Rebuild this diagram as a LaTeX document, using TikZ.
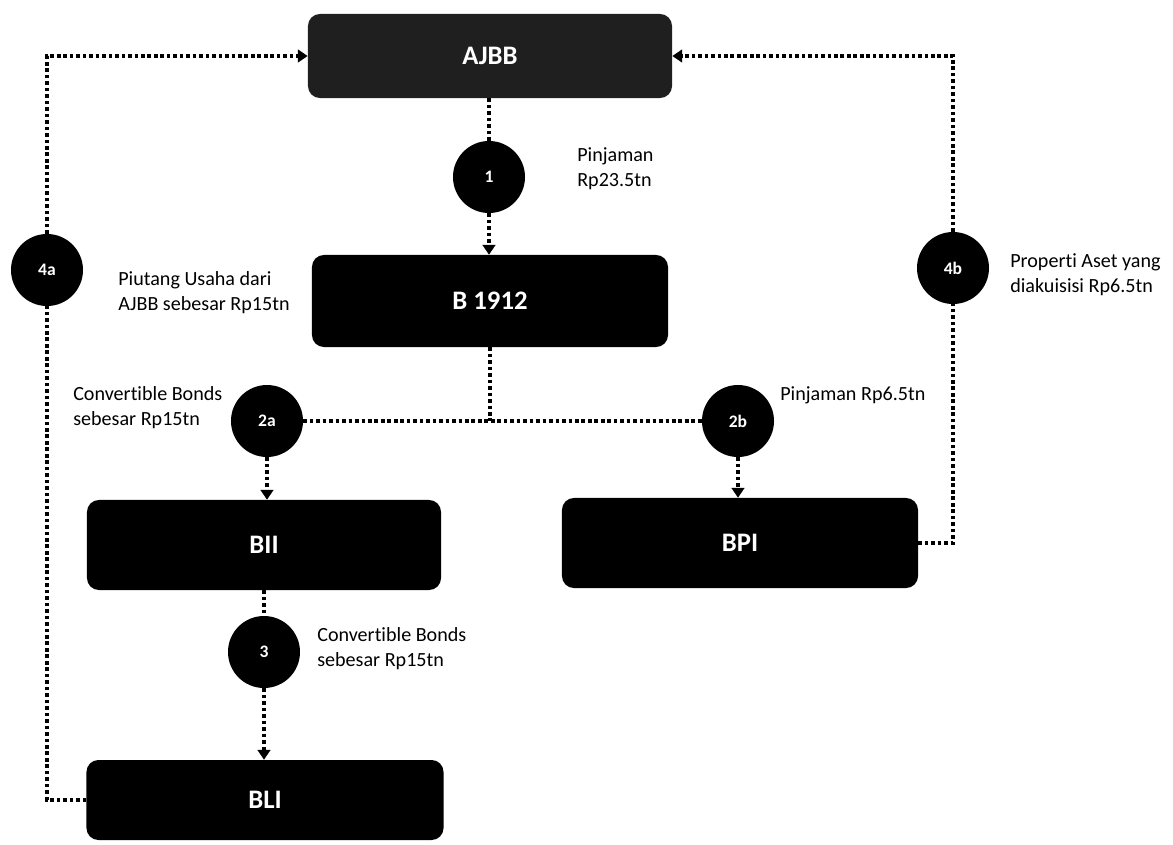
\documentclass[tikz,border=0pt]{standalone}
\usepackage{fontspec}
\setmainfont[Ligatures=NoCommon]{Carlito}
\usetikzlibrary{arrows.meta}
\begin{document}
\begin{tikzpicture}[x=0.025cm,y=-0.025cm,
  box/.style={draw=none,fill=black,rounded corners=0.3cm,text=white,font=\fontsize{19}{22}\selectfont\bfseries,inner sep=0pt},
  topbox/.style={box,fill=black!88},
  num/.style={circle,fill=black,text=white,minimum size=1.8cm,inner sep=0pt,font=\fontsize{12.5}{14}\selectfont\bfseries},
  lbl/.style={anchor=west,align=left,font=\fontsize{14.3}{17.7}\selectfont,inner sep=0pt},
  link/.style={line width=2.6pt,dash pattern=on 2.6pt off 2pt,black},
  arr/.style={link,-{Triangle[width=9pt,length=7pt,line cap=butt]}}
]
\useasboundingbox (0,0) rectangle (1173,844);
% boxes
\node[topbox,minimum width=9.1cm,minimum height=2.1cm] (ajbb) at (490,56) {AJBB};
\node[box,minimum width=8.9cm,minimum height=2.3cm] (b1912) at (490,301) {B 1912};
\node[box,minimum width=8.85cm,minimum height=2.25cm] (bii) at (264,545) {BII};
\node[box,minimum width=8.9cm,minimum height=2.25cm] (bpi) at (740,543) {BPI};
\node[box,minimum width=8.925cm,minimum height=2.0cm] (bli) at (265,800) {BLI};
% circles
\node[num] (c1) at (489,177) {1};
\node[num] (c2a) at (267,421) {2a};
\node[num] (c2b) at (738,421) {2b};
\node[num] (c3) at (264,652) {3};
\node[num] (c4a) at (47,270) {4a};
\node[num] (c4b) at (953,268) {4b};
\coordinate (j) at (490,421);
% labels
\node[lbl] (l1) at (577,169) {Pinjaman\\Rp23.5tn};
\node[lbl] (l4a) at (118,293) {Piutang Usaha dari\\AJBB sebesar Rp15tn};
\node[lbl] (l2a) at (73,408) {Convertible Bonds\\sebesar Rp15tn};
\node[lbl] (l2b) at (780,395) {Pinjaman Rp6.5tn};
\node[lbl] (l4b) at (1010,275) {Properti Aset yang\\diakuisisi Rp6.5tn};
\node[lbl] (l3) at (317,649) {Convertible Bonds\\sebesar Rp15tn};
% connectors
\draw[link] (ajbb.south -| c1) -- (c1.north);
\draw[arr] (c1.south) -- (c1.south |- b1912.north);
\draw[link] (j |- b1912.south) -- (j);
\draw[link] (c2a.east) -- (c2b.west);
\draw[arr] (c2a.south) -- (c2a.south |- bii.north);
\draw[arr] (c2b.south) -- (c2b.south |- bpi.north);
\draw[link] (bii.south) -- (c3.north);
\draw[arr] (c3.south) -- (bli.north -| c3);
\draw[link] (bpi.east) -- (c4b |- bpi.east) -- (c4b.south);
\draw[arr] (c4b.north) -- (c4b |- ajbb.east) -- (ajbb.east);
\draw[link] (bli.west) -- (c4a |- bli.west) -- (c4a.south);
\draw[arr] (c4a.north) -- (c4a |- ajbb.west) -- (ajbb.west);
\end{tikzpicture}
\end{document}
